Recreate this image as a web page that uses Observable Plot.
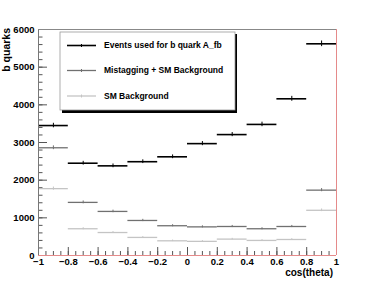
<!DOCTYPE html>
<html>
<head>
<meta charset="utf-8">
<script src="https://cdn.jsdelivr.net/npm/d3@7"></script>
<script src="https://cdn.jsdelivr.net/npm/@observablehq/plot@0.6"></script>
<style>
  html, body { margin: 0; padding: 0; background: #fff; }
  #chart { width: 374px; height: 285px; }
</style>
</head>
<body>
<div id="chart"></div>
<script>
// bin edges of cos(theta)
const binLow  = [-1, -0.8, -0.6, -0.4, -0.2, 0, 0.2, 0.4, 0.6, 0.8];
const binHigh = [-0.8, -0.6, -0.4, -0.2, 0, 0.2, 0.4, 0.6, 0.8, 1];

// series values
const signal = [3450, 2450, 2380, 2490, 2620, 2970, 3210, 3480, 4160, 5620];
const signalErr = [60, 50, 50, 50, 50, 55, 55, 60, 65, 75];
const mistag = [2860, 1410, 1170, 930, 790, 760, 770, 710, 770, 1735];
const mistagErr = [50, 38, 34, 30, 28, 28, 28, 27, 28, 42];
const smbg = [1775, 710, 610, 480, 390, 375, 435, 400, 425, 1200];
const smbgErr = [42, 27, 25, 22, 20, 20, 21, 20, 21, 35];

const seriesNames = ["Events used for b quark A_fb", "Mistagging + SM Background", "SM Background"];
const seriesColors = ["#000000", "#707070", "#c4c4c4"];
const seriesWidths = [1.6, 1.3, 1.3];

const yTicks = [0, 1000, 2000, 3000, 4000, 5000, 6000];
const xTicks = [-1, -0.8, -0.6, -0.4, -0.2, 0, 0.2, 0.4, 0.6, 0.8, 1];

const seriesValues = [signal, mistag, smbg];
const seriesErrors = [signalErr, mistagErr, smbgErr];
const rows = [];
seriesValues.forEach((vals, s) => {
  vals.forEach((v, i) => {
    rows.push({s, lo: binLow[i], hi: binHigh[i], mid: (binLow[i] + binHigh[i]) / 2, v, e: seriesErrors[s][i]});
  });
});

const font = "'Liberation Sans', Arial, Helvetica, sans-serif";
const yMinor = d3.range(0, 6001, 200);
const xMinor = d3.range(-1, 1.0001, 0.05).map(d => Math.round(d * 100) / 100);
const fmtX = d => (d < 0 ? "\u2212" + Math.abs(d) : String(d));

const marks = [];
// series drawn back to front
[2, 1, 0].forEach(s => {
  const d = rows.filter(r => r.s === s);
  marks.push(Plot.ruleY(d, {y: "v", x1: "lo", x2: "hi", stroke: seriesColors[s], strokeWidth: seriesWidths[s]}));
  marks.push(Plot.ruleX(d, {x: "mid", y1: r => r.v - r.e, y2: r => r.v + r.e, stroke: seriesColors[s], strokeWidth: 1}));
});

const plot = Plot.plot({
  width: 374,
  height: 285,
  marginLeft: 38,
  marginRight: 38,
  marginTop: 29,
  marginBottom: 30,
  style: {fontFamily: font, fontWeight: "bold", fontSize: "9.5px", background: "#fff", color: "#000"},
  x: {domain: [-1, 1]},
  y: {domain: [0, 6000]},
  marks: [
    Plot.axisY(yMinor, {anchor: "left", tickSize: -4.5, text: null, stroke: "#555", label: null}),
    Plot.axisY(yTicks, {anchor: "left", tickSize: -9, tickPadding: 13, stroke: "#555", label: null, tickFormat: d => String(d), fontSize: 9.5}),
    Plot.axisX(xMinor, {anchor: "bottom", tickSize: -4, text: null, stroke: "#555", label: null}),
    Plot.axisX(xTicks, {anchor: "bottom", tickSize: -8, tickPadding: 11, stroke: "#555", label: null, tickFormat: fmtX, fontSize: 9.5}),
    ...marks,
    Plot.ruleX([-1], {stroke: "#777", strokeWidth: 1}),
    Plot.ruleY([6000], {stroke: "#888", strokeWidth: 1}),
    Plot.ruleX([1], {stroke: "#e58a8a", strokeWidth: 1}),
    Plot.ruleY([0], {stroke: "#e58a8a", strokeWidth: 1})
  ]
});

const svg = d3.select(plot);
// axis titles
svg.append("text")
  .attr("transform", "translate(9.5,28) rotate(-90)")
  .attr("text-anchor", "end")
  .attr("font-family", font).attr("font-weight", "bold").attr("font-size", "10.5px")
  .text("b quarks");
svg.append("text")
  .attr("x", 333).attr("y", 276)
  .attr("text-anchor", "end")
  .attr("font-family", font).attr("font-weight", "bold").attr("font-size", "10px")
  .text("cos(theta)");

// legend box with shadow
const lg = svg.append("g");
lg.append("rect").attr("x", 62).attr("y", 34).attr("width", 175).attr("height", 79).attr("fill", "#000");
lg.append("rect").attr("x", 60).attr("y", 32).attr("width", 175).attr("height", 78).attr("fill", "#fff").attr("stroke", "#999").attr("stroke-width", 0.8);
const entryY = [45.5, 70.5, 96];
seriesNames.forEach((name, s) => {
  lg.append("line").attr("x1", 67).attr("x2", 96).attr("y1", entryY[s]).attr("y2", entryY[s])
    .attr("stroke", seriesColors[s]).attr("stroke-width", seriesWidths[s]);
  lg.append("line").attr("x1", 81.5).attr("x2", 81.5).attr("y1", entryY[s] - 1.5).attr("y2", entryY[s] + 1.5)
    .attr("stroke", seriesColors[s]).attr("stroke-width", 1);
  lg.append("text").attr("x", 104).attr("y", entryY[s]).attr("dy", "0.35em")
    .attr("text-anchor", "start")
    .attr("font-family", font).attr("font-weight", "bold").attr("font-size", "8.5px")
    .text(name);
});

document.getElementById("chart").appendChild(plot);
</script>
</body>
</html>
